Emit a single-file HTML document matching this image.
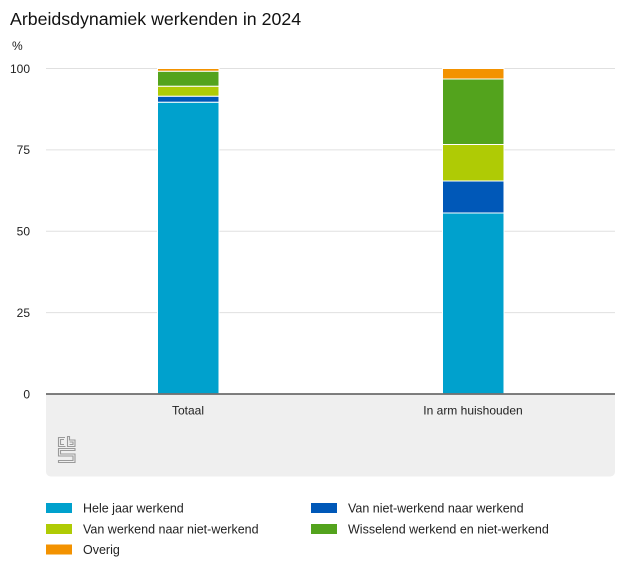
<!DOCTYPE html>
<html>
<head>
<meta charset="utf-8">
<style>
html,body{margin:0;padding:0;background:#fff;}
svg{display:block;font-family:"Liberation Sans",Arial,sans-serif;}
</style>
</head>
<body>
<svg width="626" height="574" viewBox="0 0 626 574" xmlns="http://www.w3.org/2000/svg">
  <rect width="626" height="574" fill="#fff"/>
  <text x="10" y="25" font-size="17.75" fill="#111">Arbeidsdynamiek werkenden in 2024</text>
  <text x="12" y="50" font-size="12" fill="#222">%</text>

  <!-- gridlines -->
  <g stroke="#e0e0e0" stroke-width="1">
    <line x1="46" y1="68.5" x2="615" y2="68.5"/>
    <line x1="46" y1="149.9" x2="615" y2="149.9"/>
    <line x1="46" y1="231.2" x2="615" y2="231.2"/>
    <line x1="46" y1="312.6" x2="615" y2="312.6"/>
  </g>
  <!-- tick labels -->
  <g font-size="12" fill="#222" text-anchor="end">
    <text x="30" y="73">100</text>
    <text x="30" y="154">75</text>
    <text x="30" y="235.5">50</text>
    <text x="30" y="317">25</text>
    <text x="30" y="398.5">0</text>
  </g>

  <!-- gray panel -->
  <path d="M46 394 H615 V471 Q615 476.5 609.5 476.5 H51.5 Q46 476.5 46 471 Z" fill="#efefef"/>

  <!-- bars Totaal -->
  <g stroke="#fff" stroke-width="1">
    <rect x="157.5" y="102.2" width="61.5" height="291.5" fill="#00a1cd"/>
    <rect x="157.5" y="96.2" width="61.5" height="6" fill="#0058b8"/>
    <rect x="157.5" y="86.2" width="61.5" height="10" fill="#afcb05"/>
    <rect x="157.5" y="71.2" width="61.5" height="15" fill="#53a31d"/>
    <rect x="157.5" y="68.5" width="61.5" height="2.7" fill="#f39200"/>
  </g>
  <!-- bars In arm huishouden -->
  <g stroke="#fff" stroke-width="1">
    <rect x="442.5" y="213" width="61.5" height="180.7" fill="#00a1cd"/>
    <rect x="442.5" y="181" width="61.5" height="32" fill="#0058b8"/>
    <rect x="442.5" y="144.5" width="61.5" height="36.5" fill="#afcb05"/>
    <rect x="442.5" y="79" width="61.5" height="65.5" fill="#53a31d"/>
    <rect x="442.5" y="68.5" width="61.5" height="10.5" fill="#f39200"/>
  </g>

  <!-- axis line -->
  <line x1="46" y1="394" x2="615" y2="394" stroke="#555" stroke-width="1.6"/>

  <!-- category labels -->
  <g font-size="12" fill="#222" text-anchor="middle">
    <text x="188" y="414.5">Totaal</text>
    <text x="473" y="414.5">In arm huishouden</text>
  </g>

  <!-- CBS logo -->
  <g fill="none" stroke="#9a9a9a" stroke-width="1.1">
    <path d="M65 437.5 H58.5 V446.5 H65.5"/>
    <path d="M64 439.5 H60.5 V444.5 H64"/>
    <path d="M67.5 436.5 V446.5 H75 V440 H69.5 V436.5 Z"/>
    <path d="M69.5 442 H73 V444.5 H69.5"/>
    <path d="M58.5 448.5 H75 V450.5 H60.5 V454 H75 V462.5 H58.5 V460.5 H73 V456 H58.5 Z"/>
  </g>

  <!-- legend -->
  <g font-size="12.5" fill="#222">
    <rect x="46" y="503" width="26" height="10" fill="#00a1cd"/>
    <text x="83" y="512.5">Hele jaar werkend</text>
    <rect x="311" y="503" width="26" height="10" fill="#0058b8"/>
    <text x="348" y="512.5">Van niet-werkend naar werkend</text>
    <rect x="46" y="524" width="26" height="10" fill="#afcb05"/>
    <text x="83" y="533.5">Van werkend naar niet-werkend</text>
    <rect x="311" y="524" width="26" height="10" fill="#53a31d"/>
    <text x="348" y="533.5">Wisselend werkend en niet-werkend</text>
    <rect x="46" y="544.5" width="26" height="10" fill="#f39200"/>
    <text x="83" y="554">Overig</text>
  </g>
</svg>
</body>
</html>
